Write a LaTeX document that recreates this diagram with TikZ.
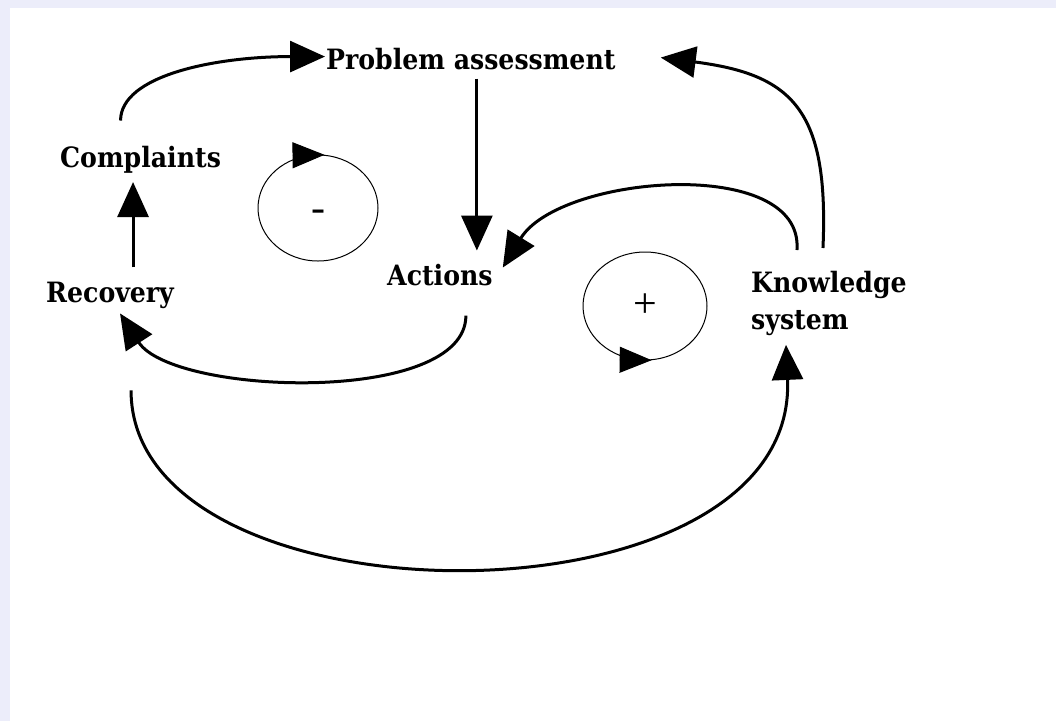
\documentclass[tikz,border=0pt]{standalone}
\usepackage{fontspec}
\setmainfont{DejaVu Serif Condensed}
\newfontfamily\signfont{Liberation Serif}
\usetikzlibrary{arrows.meta,shapes.geometric,calc}
\definecolor{bgframe}{RGB}{236,237,250}
\begin{document}
\begin{tikzpicture}[x=1pt, y=-1pt, font=\fontsize{28}{37}\selectfont\bfseries,
        link/.style={draw, line width=3pt, -{Triangle[length=35pt, width=31pt]}}]
            \tikzstyle{factor}=[inner sep=0pt, anchor=base west]
            \tikzstyle{loopsign}=[draw, ellipse, line width=1pt, inner sep=0pt, text depth=0pt, font=\fontsize{42}{42}\selectfont\signfont\mdseries]
            \tikzstyle{loophead}=[line width=1pt, -{Triangle[length=32pt, width=26pt]}]
            % Background
            \fill[bgframe] (0,0) rectangle (1056,721);
            \fill[white] (10,8) rectangle (1056,721);
            % Factors
            \node[factor] (prob) at (326,69) {Problem assessment};
            \node[factor] (comp) at (60,167) {Complaints};
            \node[factor] (rec) at (46,302) {Recovery};
            \node[factor] (act) at (387,285) {Actions};
            \node[inner sep=0pt, anchor=north west, align=left] (know) at (751,271) {Knowledge\\system};
            % Loops
            \node[loopsign, minimum width=120pt, minimum height=106pt, text height=26pt] (neg) at (318,208) {-};
            \node[loopsign, minimum width=124pt, minimum height=108pt] (pos) at (645,306) {+};
            \draw[loophead] (neg.99) -- (neg.83);
            \draw[loophead] (pos.261) -- (pos.277);
            % Links of the balancing loop
            \draw[link] ($(comp.north)+(-20,-25)$) .. controls +(0,-45) and +(-110,0) .. ($(prob.west)+(-1,-2)$);
            \draw[link] ($(rec.north)+(23,-14)$) coordinate (rc) -- ($(rc |- comp.south)+(0,9)$);
            \draw[link] ($(prob.south)+(6,9)$) coordinate (pa) -- ($(pa |- act.north)+(0,-13)$);
            \draw[link] ($(act.south)+(26,30)$) .. controls +(0,90) and +(53,82) .. ($(rec.south)+(10,5)$);
            % Links of the reinforcing loop
            \draw[link] ($(know.north)+(-32,-21)$) .. controls +(7,-95) and +(57,-93) .. ($(act.east)+(10,-7)$);
            \draw[link] ($(know.north)+(-6,-23)$) .. controls +(6,-138) and +(132,17) .. ($(prob.east)+(45,-1)$);
            \draw[link] ($(rec.south)+(21,82)$) .. controls +(0,241) and +(13,289) .. ($(know.south)+(-43,9)$);
        \end{tikzpicture}
\end{document}
